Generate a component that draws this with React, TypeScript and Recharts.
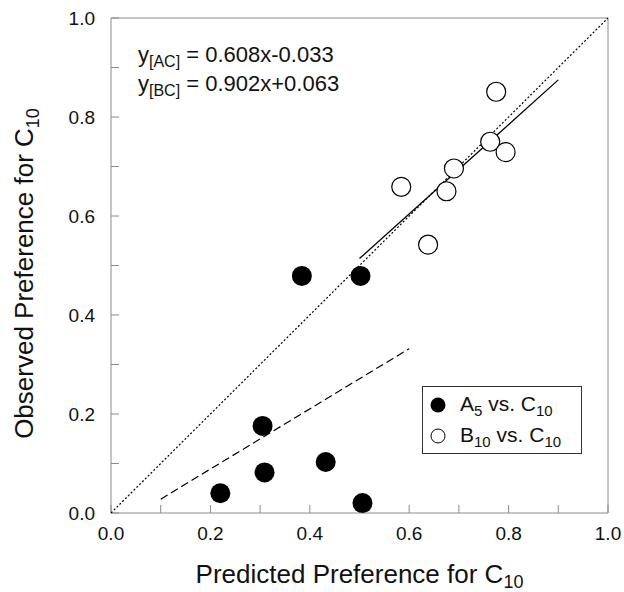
import { ScatterChart, Scatter, XAxis, YAxis, ReferenceLine, Label } from 'recharts';

const FONT = '"Liberation Sans", Arial, Helvetica, sans-serif';

// A5 vs. C10 (filled)
const aVsC = [
  { x: 0.384, y: 0.479 },
  { x: 0.502, y: 0.479 },
  { x: 0.305, y: 0.176 },
  { x: 0.309, y: 0.082 },
  { x: 0.432, y: 0.103 },
  { x: 0.22, y: 0.04 },
  { x: 0.506, y: 0.02 },
];

// B10 vs. C10 (open)
const bVsC = [
  { x: 0.775, y: 0.851 },
  { x: 0.763, y: 0.75 },
  { x: 0.794, y: 0.729 },
  { x: 0.69, y: 0.696 },
  { x: 0.675, y: 0.65 },
  { x: 0.584, y: 0.659 },
  { x: 0.638, y: 0.542 },
];

// fitted lines, endpoints from the printed equations
const identityLine = [
  { x: 0, y: 0 },
  { x: 1, y: 1 },
];
const acFit = [
  { x: 0.1, y: 0.028 },
  { x: 0.6, y: 0.332 },
];
const bcFit = [
  { x: 0.5, y: 0.514 },
  { x: 0.9, y: 0.875 },
];

const ticks = [0, 0.1, 0.2, 0.3, 0.4, 0.5, 0.6, 0.7, 0.8, 0.9, 1.0];

function tickLabel(v: number): string {
  return Math.round(v * 10) % 2 === 0 ? v.toFixed(1) : '';
}

const axisGray = '#8c8c8c';

function XTitle(props: any) {
  const vb = props.viewBox;
  return (
    <text x={vb.x + vb.width / 2} y={575} textAnchor="middle" fontSize={26} fill="#111" fontFamily={FONT}>
      Predicted Preference for C
      <tspan fontSize={18} dy={5}>10</tspan>
    </text>
  );
}

function YTitle(props: any) {
  const vb = props.viewBox;
  const cx = 25;
  const cy = vb.y + vb.height / 2 + 8;
  return (
    <text x={cx} y={cy} transform={`rotate(-90 ${cx} ${cy})`} textAnchor="middle" fontSize={26} fill="#111" fontFamily={FONT}>
      Observed Preference for C
      <tspan fontSize={18} dy={6}>10</tspan>
    </text>
  );
}

const filledDot = (p: any) => <circle cx={p.cx} cy={p.cy} r={10} fill="#000" />;
const openDot = (p: any) => <circle cx={p.cx} cy={p.cy} r={9.5} fill="#fff" stroke="#000" strokeWidth={1.2} />;
const noDot = () => <g />;

const subStyle = { fontSize: 16, verticalAlign: 'baseline', position: 'relative' as const, top: 5 };
const legendSub = { fontSize: 15, verticalAlign: 'baseline', position: 'relative' as const, top: 5 };

export default function App() {
  return (
    <div style={{ position: 'relative', width: 624, height: 592, overflow: 'hidden', fontFamily: FONT }}>
      <style>{'body { margin: 0; }'}</style>
      <div style={{ position: 'absolute', left: 8, top: 8, width: 616, height: 584 }}>
        <ScatterChart width={616} height={584} margin={{ top: 10, right: 16, left: 0, bottom: 0 }}>
          <XAxis
            type="number"
            dataKey="x"
            domain={[0, 1]}
            ticks={ticks}
            interval={0}
            tickFormatter={tickLabel}
            tickSize={-8}
            tickMargin={22}
            height={79}
            stroke={axisGray}
            tick={{ fontSize: 19, fill: '#111', fontFamily: FONT }}
          >
            <Label content={<XTitle />} />
          </XAxis>
          <YAxis
            type="number"
            dataKey="y"
            domain={[0, 1]}
            ticks={ticks}
            interval={0}
            tickFormatter={tickLabel}
            tickSize={-8}
            tickMargin={24}
            width={103}
            stroke={axisGray}
            tick={{ fontSize: 19, fill: '#111', fontFamily: FONT }}
          >
            <Label content={<YTitle />} />
          </YAxis>
          <ReferenceLine y={1} stroke={axisGray} strokeWidth={1} />
          <ReferenceLine x={1} stroke={axisGray} strokeWidth={1} />
          <Scatter
            data={identityLine}
            line={{ stroke: '#000', strokeWidth: 1.2, strokeDasharray: '2 2' }}
            lineType="joint"
            shape={noDot}
            isAnimationActive={false}
          />
          <Scatter
            data={acFit}
            line={{ stroke: '#000', strokeWidth: 1.2, strokeDasharray: '8 4' }}
            lineType="joint"
            shape={noDot}
            isAnimationActive={false}
          />
          <Scatter
            data={bcFit}
            line={{ stroke: '#000', strokeWidth: 1.3 }}
            lineType="joint"
            shape={noDot}
            isAnimationActive={false}
          />
          <Scatter data={aVsC} shape={filledDot} isAnimationActive={false} />
          <Scatter data={bVsC} shape={openDot} isAnimationActive={false} />
        </ScatterChart>
      </div>

      <div style={{ position: 'absolute', left: 138, top: 41, fontSize: 22, lineHeight: '27px', color: '#111', whiteSpace: 'nowrap' }}>
        <div>
          y<span style={subStyle}>[AC]</span> = 0.608x-0.033
        </div>
        <div>
          y<span style={subStyle}>[BC]</span> = 0.902x+0.063
        </div>
      </div>

      <div
        style={{
          position: 'absolute',
          left: 422,
          top: 386,
          width: 158,
          height: 66,
          border: '1.5px solid #333',
          background: '#fff',
          fontSize: 21,
          color: '#111',
          whiteSpace: 'nowrap',
        }}
      >
        <div style={{ position: 'absolute', left: 7, top: 4, display: 'flex', alignItems: 'center', lineHeight: '26px' }}>
          <svg width={16} height={16} style={{ marginRight: 14 }}>
            <circle cx={8} cy={8} r={7.5} fill="#000" />
          </svg>
          <span>
            A<span style={legendSub}>5</span> vs. C<span style={legendSub}>10</span>
          </span>
        </div>
        <div style={{ position: 'absolute', left: 7, top: 35, display: 'flex', alignItems: 'center', lineHeight: '26px' }}>
          <svg width={16} height={16} style={{ marginRight: 14 }}>
            <circle cx={8} cy={8} r={7} fill="#fff" stroke="#000" strokeWidth={1} />
          </svg>
          <span>
            B<span style={legendSub}>10</span> vs. C<span style={legendSub}>10</span>
          </span>
        </div>
      </div>
    </div>
  );
}
